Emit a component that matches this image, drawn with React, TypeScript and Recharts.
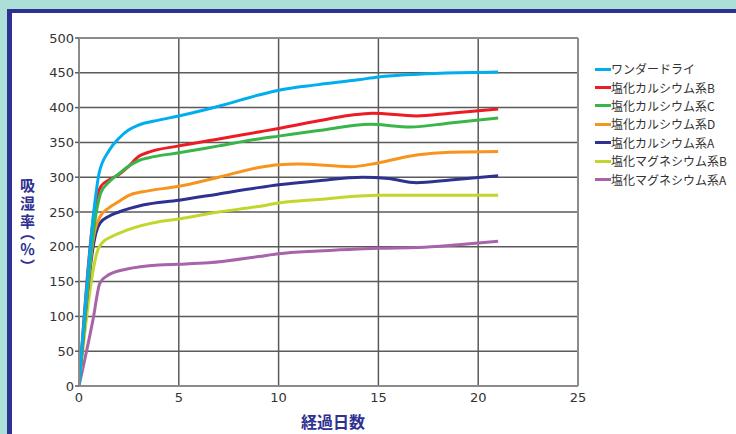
import React from "react";
import { CartesianGrid, Line, LineChart, ReferenceLine, XAxis, YAxis } from "recharts";

const NAVY = "#2e3192";
const GRID = "#5a5a5a";
const FRAME = "#8c8c8c";
const JP = '"Noto Sans CJK JP", "Noto Sans", sans-serif';

const X_TICKS = [0, 5, 10, 15, 20, 25];
const Y_TICKS = [0, 50, 100, 150, 200, 250, 300, 350, 400, 450, 500];

// [経過日数, 吸湿率%]
const wonderDry = [
  [0, 0], [0.8, 265], [1, 305], [1.5, 338], [2, 356], [2.5, 368], [3, 375], [4, 382], [5, 388],
  [7, 402], [9, 418], [10, 425], [12, 433], [14, 440], [15, 444], [17, 448], [19, 450], [21, 451],
];
const caB = [
  [0, 0], [0.9, 272], [1.1, 287], [1.5, 296], [2, 304], [2.5, 316], [3, 330], [3.5, 336], [5, 345],
  [7, 355], [9, 365], [10, 370], [12, 381], [13.6, 389], [14.7, 392], [16.9, 388], [18.6, 392], [21, 398],
];
const caC = [
  [0, 0], [0.9, 255], [1.1, 278], [1.5, 293], [2, 305], [2.5, 316], [3, 324], [3.5, 328], [5, 335],
  [7, 345], [9, 355], [10, 359], [12, 367], [14.6, 376], [16.6, 372], [18.6, 378], [21, 385],
];
const caD = [
  [0, 0], [0.8, 224], [1.05, 243], [1.5, 256], [2, 265], [2.5, 274], [3.2, 279], [5, 287], [7, 300],
  [9, 314], [10, 318], [11, 319], [13.6, 315], [14.9, 320], [16.9, 332], [18.6, 336], [21, 337],
];
const caA = [
  [0, 0], [0.85, 220], [1.05, 234], [1.5, 244], [2, 250], [3.2, 260], [5, 267], [7, 276], [9, 285],
  [10, 289], [12, 295], [14.2, 300], [15.5, 298], [16.9, 292], [18.6, 296], [21, 302],
];
const mgB = [
  [0, 0], [0.95, 196], [1.2, 207], [1.6, 214], [2.4, 224], [4, 236], [5, 240], [7, 250], [9, 258],
  [10, 263], [12, 268], [15, 274], [18, 274], [21, 274],
];
const mgA = [
  [0, 0], [0.7, 95], [1.05, 148], [1.5, 160], [2.4, 168], [4, 174], [5, 175], [6.5, 177], [9, 186],
  [10, 190], [12, 194], [14, 197], [15, 198], [17, 199], [19, 203], [21, 208],
];

const SERIES = [
  { name: "ワンダードライ", color: "#00aeef", pts: wonderDry },
  { name: "塩化カルシウム系B", color: "#ed1c24", pts: caB },
  { name: "塩化カルシウム系C", color: "#39b54a", pts: caC },
  { name: "塩化カルシウム系D", color: "#f7941d", pts: caD },
  { name: "塩化カルシウム系A", color: "#2e3192", pts: caA },
  { name: "塩化マグネシウム系B", color: "#c2d62e", pts: mgB },
  { name: "塩化マグネシウム系A", color: "#a864a8", pts: mgA },
];

// drawing order: bottom to top
const DRAW_ORDER = [6, 5, 4, 3, 1, 2, 0];

const toRows = (pts: number[][]) => pts.map(([d, v]) => ({ d, v }));

function YTick({ x, y, payload }: any) {
  return (
    <text x={x + 1} y={y} textAnchor="end" dominantBaseline="central" fill="#333" fontSize={13} fontFamily="DejaVu Sans, sans-serif">
      {payload.value}
    </text>
  );
}

function XTick({ x, y, payload }: any) {
  return (
    <text x={x} y={y + 5} textAnchor="middle" dominantBaseline="central" fill="#333" fontSize={13} fontFamily="DejaVu Sans, sans-serif">
      {payload.value}
    </text>
  );
}

function LegendBox() {
  return (
    <div style={{ position: "absolute", left: 595, top: 60, fontFamily: JP, fontSize: 12, color: "#333" }}>
      {SERIES.map((s) => (
        <div key={s.name} style={{ display: "flex", alignItems: "center", height: 18.4, whiteSpace: "nowrap" }}>
          <span style={{ display: "inline-block", width: 16, height: 3, background: s.color }} />
          <span style={{ lineHeight: "18px" }}>{s.name}</span>
        </div>
      ))}
    </div>
  );
}

export default function App() {
  return (
    <div style={{ position: "fixed", left: 0, top: 0, width: 736, height: 434, background: "#abdfd7", overflow: "hidden" }}>
      <div
        style={{
          position: "absolute",
          left: 7,
          top: 9,
          right: 0,
          bottom: 0,
          background: "#fff",
          borderLeft: `5px solid ${NAVY}`,
          borderTop: `4px solid ${NAVY}`,
        }}
      />
      <div style={{ position: "absolute", left: 0, top: 0 }}>
        <LineChart width={736} height={434} margin={{ top: 38, right: 158, bottom: 18, left: 19 }}>
          <CartesianGrid stroke={GRID} strokeWidth={1.5} />
          <XAxis
            type="number"
            dataKey="d"
            domain={[0, 25]}
            ticks={X_TICKS}
            height={30}
            tickLine={false}
            tickSize={0}
            tickMargin={6}
            axisLine={{ stroke: FRAME, strokeWidth: 2 }}
            tick={<XTick />}
            allowDataOverflow
          />
          <YAxis
            type="number"
            domain={[0, 500]}
            ticks={Y_TICKS}
            width={60}
            tickSize={4}
            tickMargin={2}
            tickLine={{ stroke: GRID, strokeWidth: 1.5 }}
            axisLine={{ stroke: FRAME, strokeWidth: 2 }}
            tick={<YTick />}
          />
          <ReferenceLine y={500} stroke={FRAME} strokeWidth={2} />
          <ReferenceLine x={25} stroke={FRAME} strokeWidth={2} />
          {DRAW_ORDER.map((i) => (
            <Line
              key={SERIES[i].name}
              data={toRows(SERIES[i].pts)}
              dataKey="v"
              name={SERIES[i].name}
              type="monotone"
              stroke={SERIES[i].color}
              strokeWidth={3}
              dot={false}
              activeDot={false}
              isAnimationActive={false}
            />
          ))}
        </LineChart>
      </div>
      <LegendBox />
      <div
        style={{
          position: "absolute",
          left: 17,
          top: 178,
          width: 20,
          writingMode: "vertical-rl",
          fontFamily: JP,
          fontWeight: 700,
          fontSize: 15,
          lineHeight: "20px",
          letterSpacing: 3,
          fontFeatureSettings: '"vpal"',
          color: NAVY,
          whiteSpace: "nowrap",
        }}
      >
        吸湿率（％）
      </div>
      <div
        style={{
          position: "absolute",
          left: 283,
          top: 409,
          width: 100,
          textAlign: "center",
          fontFamily: JP,
          fontWeight: 700,
          fontSize: 16,
          color: NAVY,
        }}
      >
        経過日数
      </div>
    </div>
  );
}
